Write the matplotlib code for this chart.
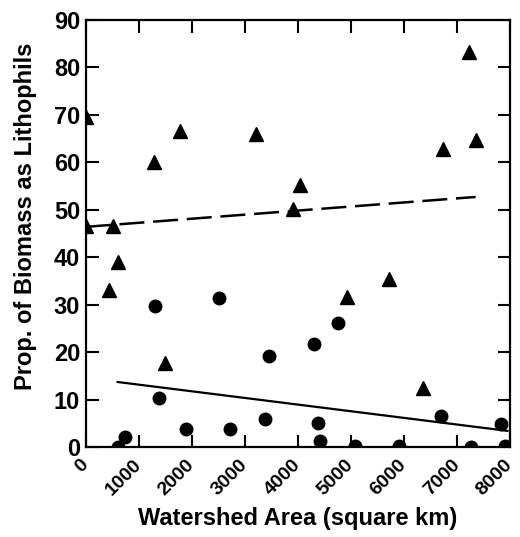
import numpy as np
import matplotlib
matplotlib.use("Agg")
import matplotlib.pyplot as plt

plt.rcParams['font.family'] = ['Liberation Sans', 'DejaVu Sans']
plt.rcParams['font.weight'] = 'bold'

# lithophil proportion, triangles (sites with high share)
tri_x = [0, 0, 510, 430, 600, 1280, 1770, 1490, 3200, 4030, 3900, 4930, 5710, 6350, 6740, 7230, 7350]
tri_y = [69.5, 46.5, 46.6, 33.1, 39.0, 60.1, 66.6, 17.7, 66.0, 55.2, 50.2, 31.6, 35.4, 12.4, 62.8, 83.3, 64.7]

# lithophil proportion, circles
cir_x = [600, 730, 1300, 1375, 1880, 2520, 2710, 3370, 3450, 4310, 4750, 4370, 4410, 5070, 5910, 6700, 7270, 7830, 7910]
cir_y = [0.0, 2.1, 29.7, 10.3, 3.8, 31.4, 3.8, 5.9, 19.2, 21.7, 26.1, 5.1, 1.3, 0.2, 0.2, 6.5, 0.0, 4.8, 0.2]

# fitted trend lines (end points)
fit_tri_x = [0, 7350]
fit_tri_y = [46.4, 52.7]
fit_cir_x = [600, 7950]
fit_cir_y = [13.7, 3.4]

xticks = [0, 1000, 2000, 3000, 4000, 5000, 6000, 7000, 8000]
yticks = [0, 10, 20, 30, 40, 50, 60, 70, 80, 90]

fig = plt.figure(figsize=(5.2, 5.37), dpi=100)
ax = fig.add_axes([0.165, 0.1676, 0.816, 0.7952])

ax.plot(tri_x, tri_y, linestyle='none', marker='^', color='black', markersize=9.5)
ax.plot(cir_x, cir_y, linestyle='none', marker='o', color='black', markersize=9)
ax.plot(fit_tri_x, fit_tri_y, color='black', lw=1.8, dashes=(10, 3.5))
ax.plot(fit_cir_x, fit_cir_y, color='black', lw=1.6)

ax.set_xlim(0, 8000)
ax.set_ylim(0, 90)
ax.set_xticks(xticks)
ax.set_xticklabels([str(v) for v in xticks], rotation=45, ha='right', va='center',
                   rotation_mode='anchor', fontsize=14)
ax.set_yticks(yticks)
ax.set_yticklabels([str(v) for v in yticks], fontsize=17)
ax.tick_params(direction='in', length=9, width=1.5, top=True, right=True, pad=4)
ax.tick_params(axis='x', pad=11)

for s in ax.spines.values():
    s.set_linewidth(1.6)

ax.set_xlabel('Watershed Area (square km)', fontsize=17, fontweight='bold', labelpad=6)
ax.set_ylabel('Prop. of Biomass as Lithophils', fontsize=17, fontweight='bold')
ax.yaxis.set_label_coords(-0.115, 0.54)

plt.savefig('out.png', dpi=100)
